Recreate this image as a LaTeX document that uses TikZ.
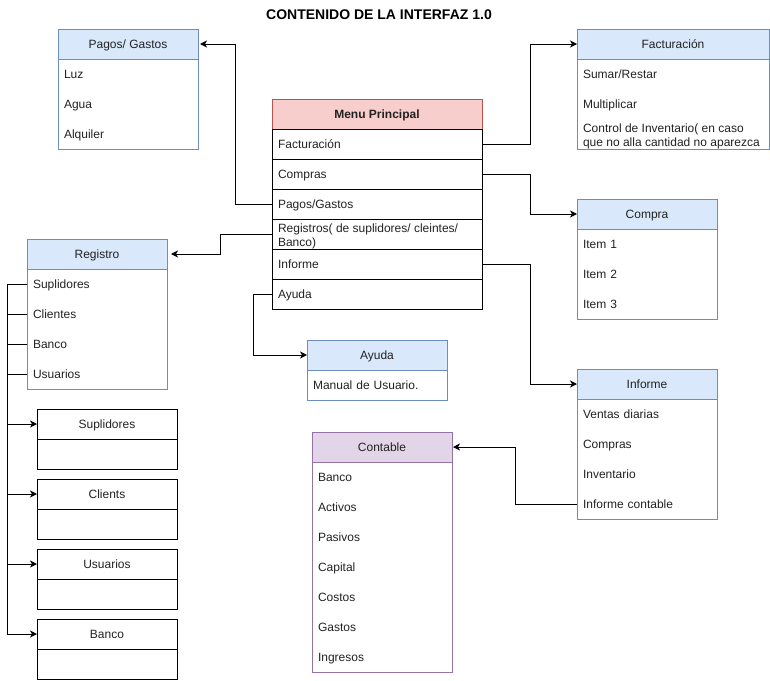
\documentclass[tikz,border=0pt]{standalone}
\usepackage{fontspec}
\setmainfont{Liberation Sans}
\usetikzlibrary{arrows.meta}
\definecolor{bluebd}{HTML}{6C8EBF}
\definecolor{bluefill}{HTML}{DAE8FC}
\definecolor{redbd}{HTML}{B85450}
\definecolor{redfill}{HTML}{F8CECC}
\definecolor{purbd}{HTML}{9673A6}
\definecolor{purfill}{HTML}{E1D5E7}
\definecolor{txt}{HTML}{222222}
\tikzset{
  base/.style={inner sep=0pt, outer sep=0pt, anchor=north west, font=\fontsize{12}{14}\selectfont, text=txt},
  body/.style={base, minimum height=#1},
  hdr/.style={base, minimum height=30pt, text height=10pt, text depth=2pt},
  itm/.style={base, inner xsep=6pt, minimum height=30pt, align=left, text height=10pt, text depth=2pt},
  multi/.style={inner sep=0pt, outer sep=0pt, anchor=west, font=\fontsize{12}{14}\selectfont, text=txt, align=left},
  arr/.style={-{Stealth[length=7pt,width=7pt,inset=2pt]}, black},
}
\begin{document}
\begin{tikzpicture}[x=1pt,y=-1pt,line width=1pt]
\useasboundingbox (0,0) rectangle (770,680);

% title
\node[font=\bfseries\fontsize{14}{16}\selectfont] (title) at (379,15) {CONTENIDO DE LA INTERFAZ 1.0};

% Pagos/ Gastos
\node[body=120pt, draw=bluebd, minimum width=140pt] (pgb) at (58,29) {};
\node[hdr, draw=bluebd, fill=bluefill, minimum width=140pt] (pg) at (58,29) {Pagos/ Gastos};
\node[itm, text width=128pt] (pg1) at (58,59) {Luz};
\node[itm, text width=128pt] (pg2) at (58,89) {Agua};
\node[itm, text width=128pt] (pg3) at (58,119) {Alquiler};

% Menu Principal
\node[hdr, draw=redbd, fill=redfill, minimum width=210pt, font=\bfseries\fontsize{12}{14}\selectfont] (mp) at (272,99) {Menu Principal};
\node[itm, draw=black, text width=198pt] (mpf) at (272,129) {Facturación};
\node[itm, draw=black, text width=198pt] (mpc) at (272,159) {Compras};
\node[itm, draw=black, text width=198pt] (mpp) at (272,189) {Pagos/Gastos};
\node[itm, draw=black, text width=198pt] (mpr) at (272,219) {};
\node[multi] (mprt) at ([xshift=6pt,yshift=-2pt]mpr.west) {Registros( de suplidores/ cleintes/\\Banco)};
\node[itm, draw=black, text width=198pt] (mpi) at (272,249) {Informe};
\node[itm, draw=black, text width=198pt] (mpa) at (272,279) {Ayuda};

% Facturacion
\node[body=120pt, minimum width=192pt] (facb) at (577,29) {};
\node[itm, text width=180pt] (fac1) at (577,59) {Sumar/Restar};
\node[itm, text width=180pt] (fac2) at (577,89) {Multiplicar};
\node[itm, text width=180pt] (fac3) at (577,119) {};
\node[multi] (fac3t) at ([xshift=6pt,yshift=-2.5pt]fac3.west) {Control de Inventario( en caso\\que no alla cantidad no aparezca};
\fill[white] ([yshift=-0.5pt]facb.south west) rectangle ([yshift=-6pt]facb.south east);
\draw[bluebd] (facb.north west) rectangle (facb.south east);
\node[hdr, draw=bluebd, fill=bluefill, minimum width=192pt] (fac) at (577,29) {Facturación};

% Compra
\node[body=120pt, draw=bluebd, minimum width=140pt] (comb) at (577,199) {};
\node[hdr, draw=bluebd, fill=bluefill, minimum width=140pt] (com) at (577,199) {Compra};
\node[itm, text width=128pt] (com1) at (577,229) {Item 1};
\node[itm, text width=128pt] (com2) at (577,259) {Item 2};
\node[itm, text width=128pt] (com3) at (577,289) {Item 3};

% Registro
\node[body=150pt, draw=bluebd, minimum width=140pt] (regb) at (27,239) {};
\node[hdr, draw=bluebd, fill=bluefill, minimum width=140pt] (reg) at (27,239) {Registro};
\node[itm, text width=128pt] (r1) at (27,269) {Suplidores};
\node[itm, text width=128pt] (r2) at (27,299) {Clientes};
\node[itm, text width=128pt] (r3) at (27,329) {Banco};
\node[itm, text width=128pt] (r4) at (27,359) {Usuarios};

% Ayuda
\node[body=60pt, draw=bluebd, minimum width=140pt] (ayb) at (307,340) {};
\node[hdr, draw=bluebd, fill=bluefill, minimum width=140pt] (ay) at (307,340) {Ayuda};
\node[itm, text width=128pt] (ay1) at (307,370) {Manual de Usuario.};

% Informe
\node[body=150pt, draw=bluebd, minimum width=140pt] (infb) at (577,369) {};
\node[hdr, draw=bluebd, fill=bluefill, minimum width=140pt] (inf) at (577,369) {Informe};
\node[itm, text width=128pt] (inf1) at (577,399) {Ventas diarias};
\node[itm, text width=128pt] (inf2) at (577,429) {Compras};
\node[itm, text width=128pt] (inf3) at (577,459) {Inventario};
\node[itm, text width=128pt] (inf4) at (577,489) {Informe contable};

% Contable
\node[body=240pt, draw=purbd, minimum width=140pt] (conb) at (312,432) {};
\node[hdr, draw=purbd, fill=purfill, minimum width=140pt] (con) at (312,432) {Contable};
\node[itm, text width=128pt] (c1) at (312,462) {Banco};
\node[itm, text width=128pt] (c2) at (312,492) {Activos};
\node[itm, text width=128pt] (c3) at (312,522) {Pasivos};
\node[itm, text width=128pt] (c4) at (312,552) {Capital};
\node[itm, text width=128pt] (c5) at (312,582) {Costos};
\node[itm, text width=128pt] (c6) at (312,612) {Gastos};
\node[itm, text width=128pt] (c7) at (312,642) {Ingresos};

% black boxes
\node[hdr, draw=black, minimum width=140pt] (bsup) at (37,409) {Suplidores};
\node[hdr, draw=black, minimum width=140pt] (bsupb) at (37,439) {};
\node[hdr, draw=black, minimum width=140pt] (bcli) at (37,479) {Clients};
\node[hdr, draw=black, minimum width=140pt] (bclib) at (37,509) {};
\node[hdr, draw=black, minimum width=140pt] (busu) at (37,549) {Usuarios};
\node[hdr, draw=black, minimum width=140pt] (busub) at (37,579) {};
\node[hdr, draw=black, minimum width=140pt] (bban) at (37,619) {Banco};
\node[hdr, draw=black, minimum width=140pt] (bbanb) at (37,649) {};

% connectors
\draw[arr] (mpf.east) -- ++(48,0) |- (fac.west);
\draw[arr] (mpc.east) -- ++(48,0) |- (com.west);
\draw[arr] (mpi.east) -- ++(48,0) |- (inf.west);
\draw[arr] (mpp.west) -- ++(-37,0) |- ([xshift=2pt]pg.east);
\draw[arr] (mpr.west) -- ++(-52,0) |- ([xshift=4pt]reg.east);
\draw[arr] (mpa.west) -- ++(-19,0) |- (ay.west);
\draw[arr] (inf4.west) -- ++(-62,0) |- ([xshift=1pt]con.east);
\draw[arr] (r1.west) -- ++(-20,0) |- (bsup.west);
\draw[arr] (r2.west) -- ++(-20,0) |- (bcli.west);
\draw[arr] (r3.west) -- ++(-20,0) |- (busu.west);
\draw[arr] (r4.west) -- ++(-20,0) |- (bban.west);
\end{tikzpicture}
\end{document}
